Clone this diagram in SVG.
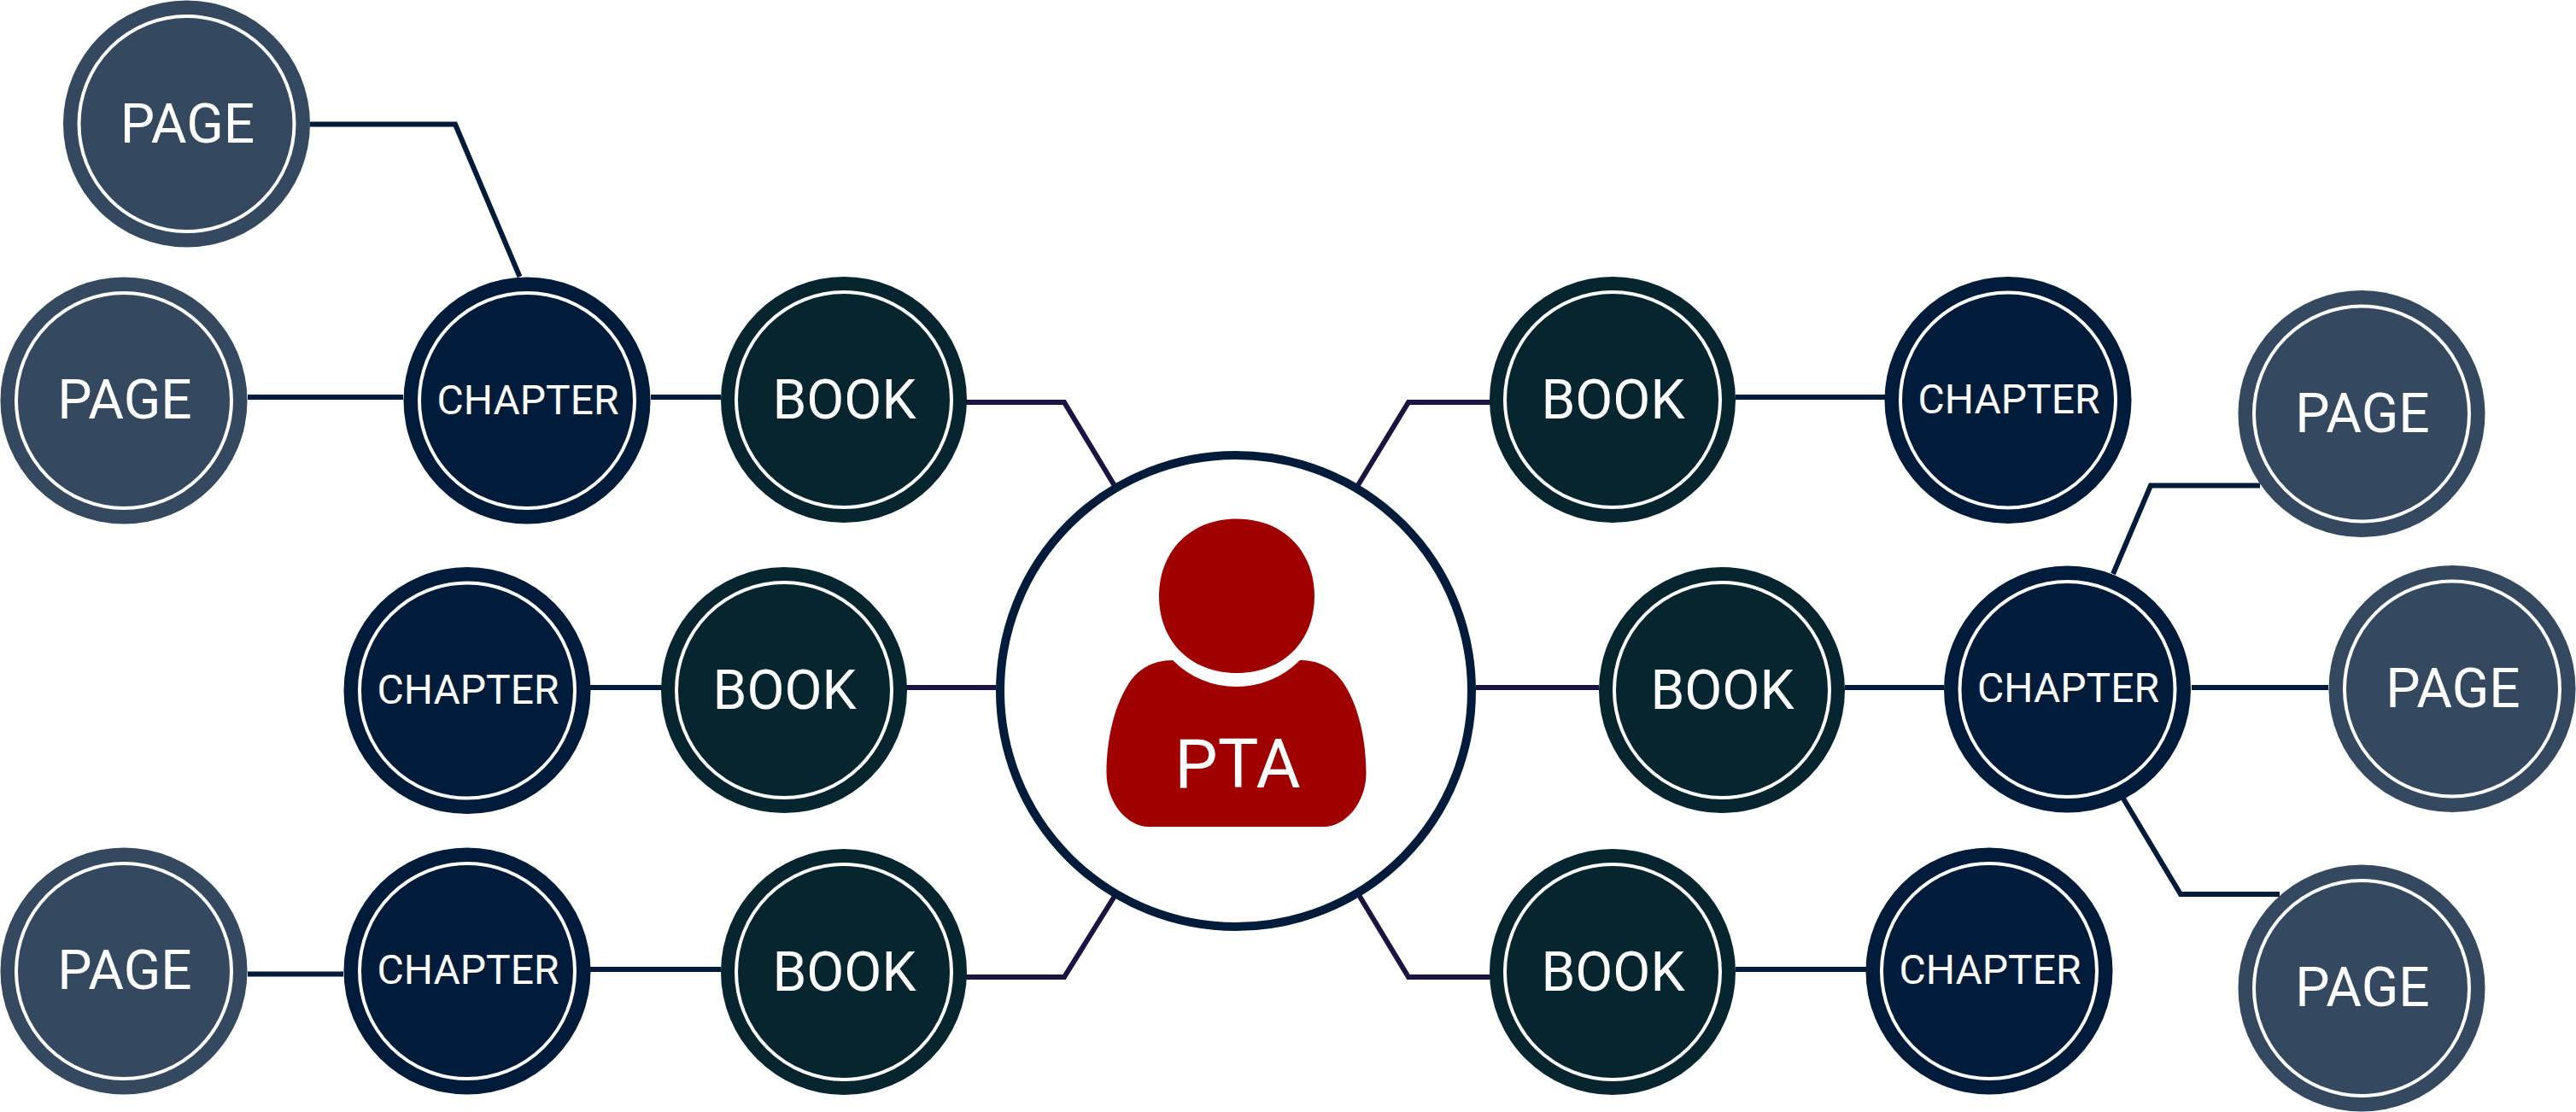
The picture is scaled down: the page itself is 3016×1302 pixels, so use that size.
<svg xmlns="http://www.w3.org/2000/svg" width="3016" height="1302" viewBox="0 0 3016 1302">
<style>
text{font-family:Roboto,"Liberation Sans",sans-serif;font-weight:400;fill:#fff;text-anchor:middle}
.pt{font-size:64px}.ct{font-size:48px}.bt{font-size:64px}
.ring{fill:none;stroke:#fff;stroke-width:4}
.page{fill:#34485F}.chapter{fill:#011C3A}.book{fill:#07252F}
.c{fill:none;stroke:#011C3A;stroke-width:6}.d{fill:none;stroke:#1B1443;stroke-width:6}
</style>
<rect width="3016" height="1302" fill="#fff"/>
<g id="connectors">
<path class="c" d="M363 145.500H533L608.500 324"/>
<path class="c" d="M290 465H472"/>
<path class="c" d="M762 465H844"/>
<path class="d" d="M1131 471H1246L1304.500 568"/>
<path class="c" d="M691 805H775"/>
<path class="d" d="M1061 805H1166"/>
<path class="c" d="M290 1140.500H402"/>
<path class="c" d="M691 1135H844"/>
<path class="d" d="M1131 1144H1246L1304.500 1050"/>
<path class="d" d="M1590 568L1649 471H1745"/>
<path class="c" d="M2032 465H2207"/>
<path class="d" d="M1728 805H1872"/>
<path class="c" d="M2160 805H2276"/>
<path class="c" d="M2566 805H2726"/>
<path class="c" d="M2474 672L2518 568.500H2646"/>
<path class="c" d="M2486 935L2553 1047H2669"/>
<path class="d" d="M1591 1048L1649 1144H1745"/>
<path class="c" d="M2032 1135H2185"/>
</g>
<g id="center">
<circle cx="1447" cy="809" r="276" fill="#fff" stroke="#011C3A" stroke-width="10"/>
<path fill="#A00000" d="M1448 607.500C1503 607.500 1539 646 1539 698C1539 750 1503 788 1448 788C1393 788 1357 750 1357 698C1357 646 1393 607.500 1448 607.500Z"/>
<path fill="#A00000" d="M1373 773A105 105 0 0 0 1522 773C1546 773 1564 784 1575 803C1592 830 1599.500 870 1599.500 905C1599.500 940 1575 968 1550 968H1345C1320 968 1295.500 940 1295.500 905C1295.500 870 1303 830 1320 803C1331 784 1349 773 1373 773Z"/>
<text x="1449" y="922" font-size="80">PTA</text>
</g>
<g id="page1"><circle class="page" cx="218.500" cy="145" r="144.500"/><circle class="ring" cx="218.500" cy="145" r="126"/><text class="pt" x="219.500" y="166.500">PAGE</text></g>
<g id="page2"><circle class="page" cx="145" cy="469" r="144.500"/><circle class="ring" cx="145" cy="469" r="126"/><text class="pt" x="146" y="490">PAGE</text></g>
<g id="chapter1"><circle class="chapter" cx="617" cy="469" r="144.500"/><circle class="ring" cx="617" cy="469" r="126"/><text class="ct" x="618" y="485">CHAPTER</text></g>
<g id="book1"><circle class="book" cx="988" cy="468" r="144"/><circle class="ring" cx="988" cy="468" r="126"/><text class="bt" x="988.500" y="490">BOOK</text></g>
<g id="chapter2"><circle class="chapter" cx="547" cy="808.500" r="144.500"/><circle class="ring" cx="547" cy="808.500" r="126"/><text class="ct" x="548" y="824">CHAPTER</text></g>
<g id="book2"><circle class="book" cx="918" cy="808" r="144"/><circle class="ring" cx="918" cy="808" r="126"/><text class="bt" x="918.600" y="830">BOOK</text></g>
<g id="page3"><circle class="page" cx="145" cy="1137" r="144.500"/><circle class="ring" cx="145" cy="1137" r="126"/><text class="pt" x="146" y="1158">PAGE</text></g>
<g id="chapter3"><circle class="chapter" cx="547" cy="1137" r="144.500"/><circle class="ring" cx="547" cy="1137" r="126"/><text class="ct" x="548" y="1152">CHAPTER</text></g>
<g id="book3"><circle class="book" cx="988" cy="1138" r="144"/><circle class="ring" cx="988" cy="1138" r="126"/><text class="bt" x="988.500" y="1160">BOOK</text></g>
<g id="book4"><circle class="book" cx="1888" cy="468" r="144"/><circle class="ring" cx="1888" cy="468" r="126"/><text class="bt" x="1888.500" y="490">BOOK</text></g>
<g id="chapter4"><circle class="chapter" cx="2351" cy="468.500" r="144.500"/><circle class="ring" cx="2351" cy="468.500" r="126"/><text class="ct" x="2352" y="484">CHAPTER</text></g>
<g id="page4"><circle class="page" cx="2765" cy="484.500" r="144.500"/><circle class="ring" cx="2765" cy="484.500" r="126"/><text class="pt" x="2766" y="506">PAGE</text></g>
<g id="book5"><circle class="book" cx="2016" cy="808" r="144"/><circle class="ring" cx="2016" cy="808" r="126"/><text class="bt" x="2016.500" y="830">BOOK</text></g>
<g id="chapter5"><circle class="chapter" cx="2420.500" cy="807" r="144.500"/><circle class="ring" cx="2420.500" cy="807" r="126"/><text class="ct" x="2421.500" y="822">CHAPTER</text></g>
<g id="page5"><circle class="page" cx="2871" cy="806.500" r="144.500"/><circle class="ring" cx="2871" cy="806.500" r="126"/><text class="pt" x="2872" y="827.500">PAGE</text></g>
<g id="book6"><circle class="book" cx="1888" cy="1138" r="144"/><circle class="ring" cx="1888" cy="1138" r="126"/><text class="bt" x="1888.500" y="1160">BOOK</text></g>
<g id="chapter6"><circle class="chapter" cx="2329" cy="1137" r="144.500"/><circle class="ring" cx="2329" cy="1137" r="126"/><text class="ct" x="2330" y="1152">CHAPTER</text></g>
<g id="page6"><circle class="page" cx="2765" cy="1157" r="144.500"/><circle class="ring" cx="2765" cy="1157" r="126"/><text class="pt" x="2766" y="1178">PAGE</text></g>
</svg>
